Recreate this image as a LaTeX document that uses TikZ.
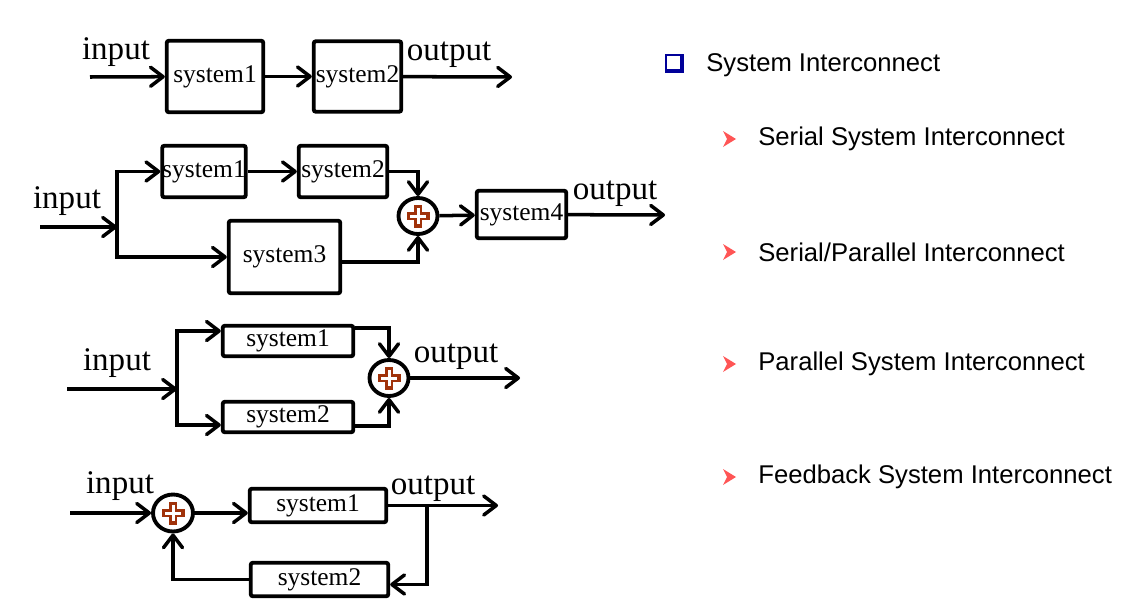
\documentclass[tikz,border=0pt]{standalone}
\usepackage{fontspec}
\setmainfont{Liberation Serif}
\newfontfamily\fontesans{Liberation Sans}
\usetikzlibrary{arrows.meta,positioning,shapes.geometric}
\definecolor{azulescuro}{RGB}{0,0,153}
\definecolor{vermelhoclaro}{RGB}{255,85,85}
\definecolor{marrom}{RGB}{160,50,10}
\tikzset{
  bloco/.style={rectangle,draw,line width=2.2pt,rounded corners=1.2pt,inner sep=0pt,
    font=\fontsize{14.5}{16}\selectfont},
  somador/.style={ellipse,draw,line width=2.2pt,fill=white,inner sep=0pt,
    minimum width=7.8mm,minimum height=7.2mm,
    path picture={
      \coordinate (pc) at (path picture bounding box.center);
      \fill[marrom] ([shift={(-0.085cm,-0.23cm)}]pc) rectangle ([shift={(0.085cm,0.23cm)}]pc);
      \fill[marrom] ([shift={(-0.23cm,-0.085cm)}]pc) rectangle ([shift={(0.23cm,0.085cm)}]pc);
      \fill[white] ([shift={(-0.03cm,-0.16cm)}]pc) rectangle ([shift={(0.03cm,0.16cm)}]pc);
      \fill[white] ([shift={(-0.16cm,-0.03cm)}]pc) rectangle ([shift={(0.16cm,0.03cm)}]pc);
    }},
  rotulo/.style={font=\fontsize{18.8}{20}\selectfont,inner sep=0pt},
  seta/.style={-{Straight Barb[length=2.5mm,width=3.8mm,round]},line width=2pt},
  topico/.style={font=\fontesans\fontsize{14.6}{17}\selectfont,anchor=west,inner sep=0pt}
}

\begin{document}
\begin{tikzpicture}[x=0.02cm,y=-0.02cm]
\useasboundingbox (0,0) rectangle (1128,612);

% serie
\node[bloco,minimum width=1.93cm,minimum height=1.43cm] (sisa1) at (215,76.5) {system1};
\node[bloco,minimum width=1.75cm,minimum height=1.41cm] (sisa2) at (357.5,76.5) {system2};
\coordinate (entA) at (90,77);
\coordinate (saiA) at (512,77);
\node[rotulo] (inA) at (116,52) {input};
\node[rotulo] (outA) at (449,55) {output};
\draw[seta] (entA) -- (sisa1);
\draw[seta] (sisa1) -- (sisa2);
\draw[seta] (sisa2) -- (saiA);

% serie/paralelo
\node[bloco,minimum width=1.65cm,minimum height=1.03cm] (sisb1) at (204,171.5) {system1};
\node[bloco,minimum width=1.77cm,minimum height=1.03cm] (sisb2) at (343,171.5) {system2};
\node[bloco,minimum width=2.23cm,minimum height=1.45cm] (sisb3) at (284.5,257) {system3};
\node[bloco,minimum width=1.79cm,minimum height=0.95cm] (sisb4) at (521.5,214.5) {system4};
\node[somador] (somab) at (418,216) {};
\coordinate (entB) at (40,227);
\coordinate (juncB) at (117,227);
\coordinate (saiB) at (665,215);
\node[rotulo] (inB) at (67,201) {input};
\node[rotulo] (outB) at (615,194) {output};
\draw[seta] (entB) -- (juncB);
\draw[seta] (juncB) |- (sisb1);
\draw[seta] (juncB) |- (sisb3);
\draw[seta] (sisb1) -- (sisb2);
\draw[seta] (sisb2) -| (somab.north);
\draw[seta] ([yshift=-0.1cm]sisb3.east) -| (somab.south);
\draw[seta] (somab) -- (sisb4);
\draw[seta] (sisb4) -- (saiB);

% paralelo
\node[bloco,minimum width=2.61cm,minimum height=0.61cm] (sisc1) at (288,341) {system1};
\node[bloco,minimum width=2.61cm,minimum height=0.61cm] (sisc2) at (288,417) {system2};
\node[somador] (somac) at (389,378) {};
\coordinate (entC) at (67,389);
\coordinate (juncC) at (177,389);
\coordinate (saiC) at (520,378);
\node[rotulo] (inC) at (117,363) {input};
\node[rotulo] (outC) at (456,357) {output};
\draw[seta] (entC) -- (juncC);
\draw[seta] (juncC) |- ([yshift=0.2cm]sisc1.west);
\draw[seta] (juncC) |- ([yshift=-0.16cm]sisc2.west);
\draw[seta] ([yshift=0.26cm]sisc1.east) -| (somac.north);
\draw[seta] ([yshift=-0.18cm]sisc2.east) -| (somac.south);
\draw[seta] (somac) -- (saiC);

% realimentacao
\node[bloco,minimum width=2.73cm,minimum height=0.67cm] (sisd1) at (318,505.5) {system1};
\node[bloco,minimum width=2.75cm,minimum height=0.67cm] (sisd2) at (319.5,579.5) {system2};
\node[somador,minimum width=8mm,minimum height=7.4mm] (somad) at (173,513) {};
\coordinate (entD) at (70,513);
\coordinate (saiD) at (498,505.5);
\coordinate (ramoD) at (427,505.5);
\node[rotulo] (inD) at (120,486) {input};
\node[rotulo] (outD) at (433,489) {output};
\draw[seta] (entD) -- (somad);
\draw[seta] (somad.east) -- (somad.east -| sisd1.west);
\draw[seta] (sisd1) -- (saiD);
\draw[seta] (ramoD) |- ([yshift=-0.1cm]sisd2.east);
\draw[seta] (sisd2) -| (somad.south);

% texto
\fill[azulescuro] (665,54) rectangle (684,73);
\fill[white] (667,56) rectangle (680,69);
\node[topico] (titulo) at (706,65) {System Interconnect};
\fill[vermelhoclaro] (723,131) -- (736,139) -- (723,147) -- (727,139) -- cycle;
\node[topico] (item1) at (758,139) {Serial System Interconnect};
\fill[vermelhoclaro] (723,244) -- (736,252) -- (723,260) -- (727,252) -- cycle;
\node[topico] (item2) at (758,252) {Serial/Parallel Interconnect};
\fill[vermelhoclaro] (723,356) -- (736,364) -- (723,372) -- (727,364) -- cycle;
\node[topico] (item3) at (758,364) {Parallel System Interconnect};
\fill[vermelhoclaro] (723,469) -- (736,477) -- (723,485) -- (727,477) -- cycle;
\node[topico] (item4) at (758,477) {Feedback System Interconnect};
\end{tikzpicture}
\end{document}
